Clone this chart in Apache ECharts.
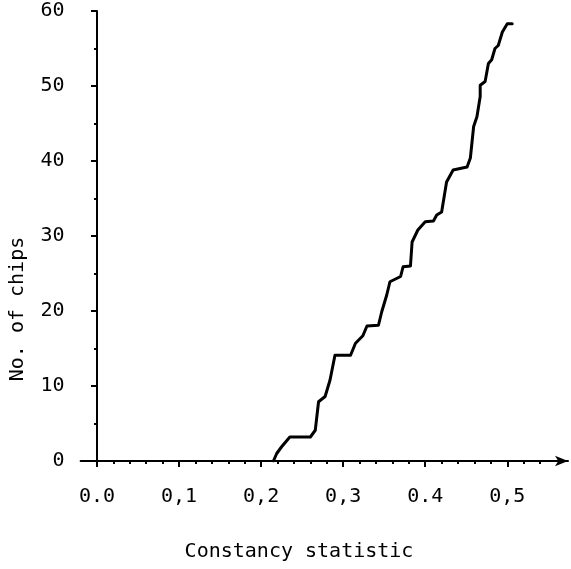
<!DOCTYPE html>
<html><head><meta charset="utf-8">
<script src="https://cdn.jsdelivr.net/npm/echarts@6/dist/echarts.min.js"></script>
<style>html,body{margin:0;padding:0;background:#fff}#c{width:571px;height:569px}</style>
</head><body><div id="c"></div>
<script>
// Cumulative curve: constancy statistic (x) vs number of chips (y)
const stat  = [0.215,0.219,0.225,0.235,0.260,0.266,0.270,0.278,0.284,0.290,0.309,0.315,0.324,0.329,0.343,0.347,0.353,0.357,0.370,0.373,0.382,0.384,0.391,0.400,0.410,0.414,0.420,0.426,0.434,0.451,0.455,0.459,0.463,0.467,0.467,0.473,0.477,0.481,0.485,0.489,0.494,0.500,0.506];
const chips = [0,1.0,1.9,3.2,3.2,4.1,7.9,8.6,10.8,14.1,14.1,15.7,16.7,18.0,18.1,19.9,22.1,23.9,24.6,25.9,26.0,29.2,30.8,31.9,32.0,32.8,33.2,37.2,38.8,39.2,40.4,44.6,45.9,48.6,50.1,50.6,53.0,53.5,55.0,55.4,57.2,58.3,58.3];
const xMajorTicks = [0,0.1,0.2,0.3,0.4,0.5];
const xTickLabels = ['0.0','0,1','0,2','0,3','0.4','0,5'];
const xMinorTicks = [0.02,0.04,0.06,0.08,0.12,0.14,0.16,0.18,0.22,0.24,0.26,0.28,0.32,0.34,0.36,0.38,0.42,0.44,0.46,0.48,0.52,0.54];
const xTitle = 'Constancy statistic';
const yTitle = 'No. of chips';

const FONT = 'DejaVu Sans Mono';
const chart = echarts.init(document.getElementById('c'), null, {renderer:'canvas'});
chart.setOption({
  animation:false,
  backgroundColor:'#fff',
  grid:{left:80.6, right:3, top:11, bottom:108, outerBoundsMode:'none'},
  xAxis:[{
    type:'value', min:-0.02, max:0.574,
    splitLine:{show:false},
    axisLine:{show:true, onZero:false, symbol:['none','arrow'], symbolSize:[8,13], lineStyle:{color:'#000', width:2}},
    axisTick:{show:true, customValues:xMajorTicks, length:6, lineStyle:{color:'#000', width:2}},
    axisLabel:{show:true, customValues:xMajorTicks, margin:26, color:'#000', fontFamily:FONT, fontSize:20,
      formatter:function(v){ for(let i=0;i<xMajorTicks.length;i++){ if(Math.abs(v-xMajorTicks[i])<1e-6) return xTickLabels[i]; } return ''; }}
  },{
    type:'value', min:-0.02, max:0.574, position:'bottom',
    splitLine:{show:false},
    axisLine:{show:false, onZero:false},
    axisTick:{show:true, customValues:xMinorTicks, length:3, lineStyle:{color:'#000', width:2}},
    axisLabel:{show:false}
  }],
  yAxis:{
    type:'value', min:0, max:60, interval:10,
    splitLine:{show:false},
    axisLine:{show:true, onZero:true, onZeroAxisIndex:0, lineStyle:{color:'#000', width:2}},
    axisTick:{show:true, length:6, lineStyle:{color:'#000', width:2}},
    minorTick:{show:true, splitNumber:2, length:3, lineStyle:{color:'#000', width:2}},
    axisLabel:{margin:16, color:'#000', fontFamily:FONT, fontSize:20}
  },
  graphic:[
    {type:'text', x:299, y:552, style:{text:xTitle, fontFamily:FONT, fontSize:20, fill:'#000', align:'center', verticalAlign:'middle'}},
    {type:'text', x:18, y:309, rotation:Math.PI/2, style:{text:yTitle, fontFamily:FONT, fontSize:20, fill:'#000', align:'center', verticalAlign:'middle'}}
  ],
  series:[{
    type:'line', xAxisIndex:0,
    data: stat.map((s,i)=>[s, chips[i]]),
    showSymbol:false, symbol:'none',
    lineStyle:{color:'#000', width:3, join:'round', cap:'round'}
  }]
});
</script></body></html>
